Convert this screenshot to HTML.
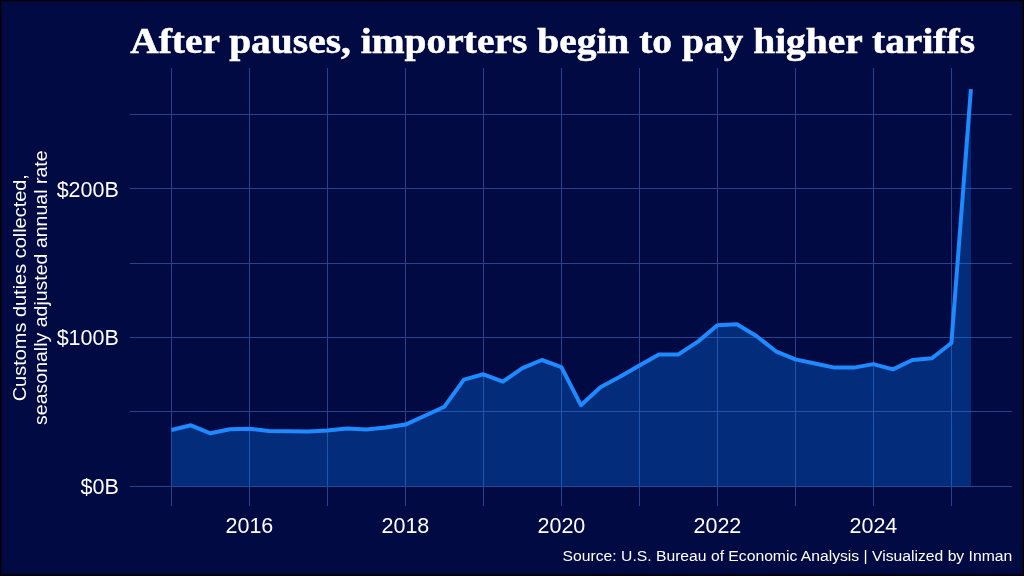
<!DOCTYPE html>
<html><head><meta charset="utf-8"><style>
html,body{margin:0;padding:0;}
body{width:1024px;height:576px;overflow:hidden;background:#010A42;position:relative;}
svg{position:absolute;left:0;top:0;will-change:transform;}
.t{font-family:"Liberation Sans",sans-serif;fill:#FFFFFF;}
.title{font-family:"Liberation Serif",serif;font-weight:bold;fill:#FFFFFF;stroke:#FFFFFF;stroke-width:0.5;}
</style></head><body>
<svg width="1024" height="576" viewBox="0 0 1024 576">
<rect x="0" y="0" width="1024" height="576" fill="#010A42"/>
<g stroke="#2B4189" stroke-width="1.0" shape-rendering="crispEdges"><line x1="171.50" y1="67.6" x2="171.50" y2="506.2"/><line x1="249.50" y1="67.6" x2="249.50" y2="506.2"/><line x1="327.50" y1="67.6" x2="327.50" y2="506.2"/><line x1="405.50" y1="67.6" x2="405.50" y2="506.2"/><line x1="483.50" y1="67.6" x2="483.50" y2="506.2"/><line x1="561.50" y1="67.6" x2="561.50" y2="506.2"/><line x1="639.50" y1="67.6" x2="639.50" y2="506.2"/><line x1="717.50" y1="67.6" x2="717.50" y2="506.2"/><line x1="795.50" y1="67.6" x2="795.50" y2="506.2"/><line x1="873.50" y1="67.6" x2="873.50" y2="506.2"/><line x1="951.50" y1="67.6" x2="951.50" y2="506.2"/><line x1="130.2" y1="486.50" x2="1011.6" y2="486.50"/><line x1="130.2" y1="411.50" x2="1011.6" y2="411.50"/><line x1="130.2" y1="337.50" x2="1011.6" y2="337.50"/><line x1="130.2" y1="263.50" x2="1011.6" y2="263.50"/><line x1="130.2" y1="188.50" x2="1011.6" y2="188.50"/><line x1="130.2" y1="114.50" x2="1011.6" y2="114.50"/></g>
<path d="M171.40,486.3 L171.40,430.00 L190.90,425.30 L210.40,433.30 L229.90,429.30 L249.40,428.80 L268.90,430.90 L288.40,431.20 L307.90,431.60 L327.40,430.60 L346.90,428.40 L366.40,429.50 L385.90,427.40 L405.40,424.60 L424.90,415.70 L444.40,406.70 L463.90,379.60 L483.40,374.30 L502.90,381.70 L522.40,368.10 L541.90,360.00 L561.40,367.10 L580.90,405.20 L600.40,387.30 L619.90,376.80 L639.40,365.50 L658.90,354.40 L678.40,354.40 L697.90,341.60 L717.40,325.20 L736.90,324.30 L756.40,336.00 L775.90,351.30 L795.40,359.40 L814.90,363.50 L834.40,367.60 L853.90,367.60 L873.40,364.10 L892.90,369.40 L912.40,360.00 L931.90,358.30 L951.40,343.00 L970.90,89.20 L970.90,486.3 Z" fill="#0A80FD" fill-opacity="0.3"/>
<polyline points="171.40,430.00 190.90,425.30 210.40,433.30 229.90,429.30 249.40,428.80 268.90,430.90 288.40,431.20 307.90,431.60 327.40,430.60 346.90,428.40 366.40,429.50 385.90,427.40 405.40,424.60 424.90,415.70 444.40,406.70 463.90,379.60 483.40,374.30 502.90,381.70 522.40,368.10 541.90,360.00 561.40,367.10 580.90,405.20 600.40,387.30 619.90,376.80 639.40,365.50 658.90,354.40 678.40,354.40 697.90,341.60 717.40,325.20 736.90,324.30 756.40,336.00 775.90,351.30 795.40,359.40 814.90,363.50 834.40,367.60 853.90,367.60 873.40,364.10 892.90,369.40 912.40,360.00 931.90,358.30 951.40,343.00 970.90,89.20" fill="none" stroke="#1E8AFF" stroke-width="4.0" stroke-linejoin="round" stroke-linecap="butt"/>
<text class="title" x="130.2" y="52.8" font-size="35.0" textLength="844.8" lengthAdjust="spacingAndGlyphs">After pauses, importers begin to pay higher tariffs</text>
<g class="t" font-size="21.5" text-anchor="end"><text x="118.8" y="196.52">$200B</text><text x="118.8" y="345.36">$100B</text><text x="118.8" y="494.20">$0B</text></g>
<g class="t" font-size="21.5" text-anchor="middle"><text x="249.40" y="532.8">2016</text><text x="405.40" y="532.8">2018</text><text x="561.40" y="532.8">2020</text><text x="717.40" y="532.8">2022</text><text x="873.40" y="532.8">2024</text></g>
<g class="t" font-size="18.4" text-anchor="middle">
<text transform="translate(25.6,287.7) rotate(-90)" textLength="227.2" lengthAdjust="spacingAndGlyphs">Customs duties collected,</text>
<text transform="translate(46.9,287.7) rotate(-90)" textLength="274.4" lengthAdjust="spacingAndGlyphs">seasonally adjusted annual rate</text>
</g>
<text class="t" x="1012.2" y="560.6" font-size="15.1" text-anchor="end" textLength="449.6" lengthAdjust="spacingAndGlyphs">Source: U.S. Bureau of Economic Analysis | Visualized by Inman</text>
<g shape-rendering="crispEdges">
<rect x="0" y="2" width="1024" height="1" fill="#04093A"/>
<rect x="0" y="573" width="1024" height="1" fill="#05082D"/>
<rect x="2" y="0" width="1" height="576" fill="#04093A"/>
<rect x="1021" y="0" width="1" height="576" fill="#06092A"/>
<rect x="1020" y="0" width="1" height="576" fill="#020939"/>
<rect x="0" y="1" width="1024" height="1" fill="#050822"/>
<rect x="0" y="574" width="1024" height="1" fill="#03051E"/>
<rect x="1" y="0" width="1" height="576" fill="#040722"/>
<rect x="1022" y="0" width="1" height="576" fill="#05061E"/>
<rect x="0" y="0" width="1024" height="1" fill="#010114"/>
<rect x="0" y="575" width="1024" height="1" fill="#01010F"/>
<rect x="0" y="0" width="1" height="576" fill="#010114"/>
<rect x="1023" y="0" width="1" height="576" fill="#01010F"/>
</g>
</svg>
</body></html>
